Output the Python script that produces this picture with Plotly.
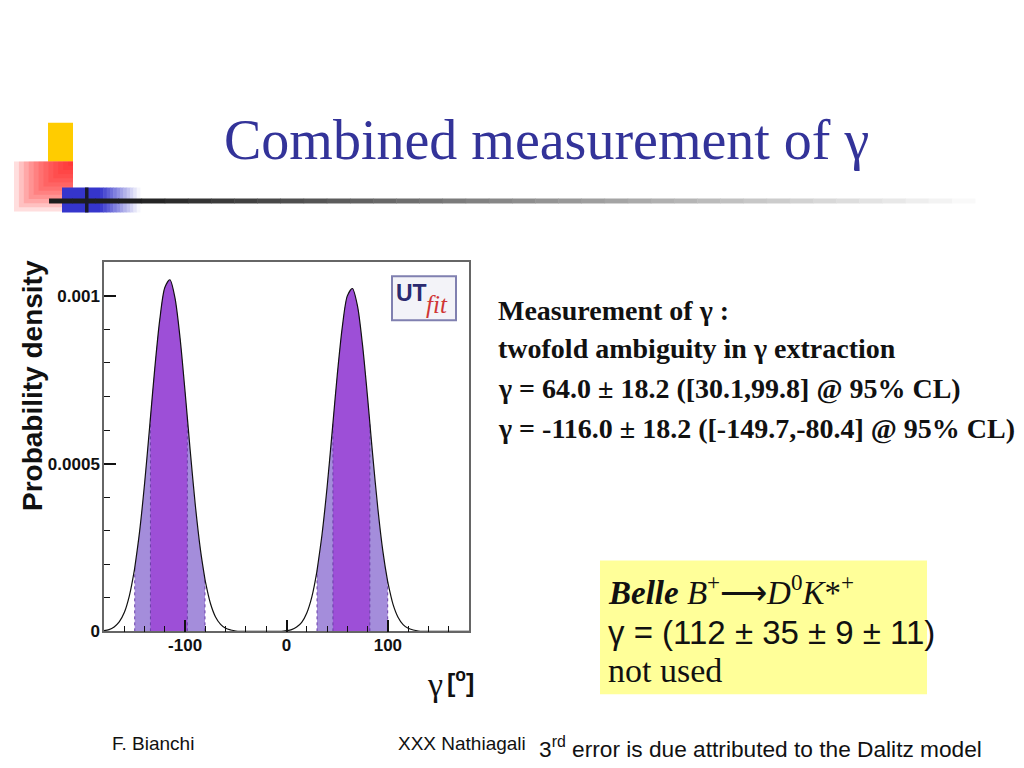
import plotly.graph_objects as go
import numpy as np

# ---------------- data ----------------
gamma_deg = [-180, -175, -170, -165, -160, -155, -150, -145, -140, -135, -130, -125,
             -120, -115, -110, -105, -100, -95, -90, -85, -80, -75, -70, -65, -60,
             -55, -50, -45, -40, -35, -30, -25, -20, -15, -10, -5,
             0, 5, 10, 15, 20, 25, 30, 35, 40, 45, 50, 55, 60, 65, 70, 75, 80, 85,
             90, 95, 100, 105, 110, 115, 120, 125, 130, 135, 140, 145, 150, 155,
             160, 165, 170, 175, 180]
density_e4 = [0.02, 0.05, 0.13, 0.28, 0.56, 1.06, 1.83, 2.95, 4.40, 6.09, 7.81, 9.29,
              10.25, 10.48, 9.94, 8.75, 7.13, 5.40, 3.78, 2.46, 1.48, 0.83, 0.43, 0.21, 0.09,
              0.04, 0.01, 0.0, 0.0, 0.0, 0.0, 0.0, 0.0, 0.0, 0.0, 0.0,
              0.02, 0.05, 0.13, 0.27, 0.55, 1.03, 1.79, 2.88, 4.29, 5.94, 7.62, 9.06, 10.00,
              10.22, 9.70, 8.53, 6.96, 5.26, 3.69, 2.40, 1.45, 0.81, 0.42, 0.20, 0.09,
              0.04, 0.01, 0.0, 0.0, 0.0, 0.0, 0.0, 0.0, 0.0, 0.0, 0.0, 0.0]

# 68% and 95% interval edges and the density read at those edges
band68 = [(-134.2, -97.8), (45.8, 82.2)]
band95 = [(-149.7, -80.4), (30.1, 99.8)]
edge_gamma = [-149.7, -134.2, -97.8, -80.4, 30.1, 45.8, 82.2, 99.8]
edge_density_e4 = [1.89, 6.37, 6.37, 1.55, 1.81, 6.21, 6.21, 1.48]

y_ticks = [0, 0.0005, 0.001]
y_ticktext = ["0", "0.0005", "0.001"]
x_ticks = [-100, 0, 100]
x_ticktext = ["-100", "0", "100"]

# merge curve points with the band edge points
g_all = np.array(gamma_deg + edge_gamma, dtype=float)
d_all = np.array(density_e4 + edge_density_e4, dtype=float) * 1e-4
order = np.argsort(g_all, kind="stable")
g_all = g_all[order]
d_all = d_all[order]

W, H = 1024, 768
# map screen pixel positions of the reference to paper coordinates
def px(x):
    return (x - 8) / W
def py(y):
    return 1 - (y - 8) / 760

LIGHT = "#a48ddb"
DARK = "#9d4fd7"
EDGE = "#6b3fa8"

fig = go.Figure()

def band_trace(lo, hi, color):
    m = (g_all >= lo - 1e-9) & (g_all <= hi + 1e-9)
    return go.Scatter(x=g_all[m], y=d_all[m], mode="lines", fill="tozeroy",
                      fillcolor=color, line=dict(width=0, shape="spline", smoothing=0.8),
                      hoverinfo="skip", showlegend=False)

for lo, hi in band95:
    fig.add_trace(band_trace(lo, hi, LIGHT))
for lo, hi in band68:
    fig.add_trace(band_trace(lo, hi, DARK))

# dotted edges of the intervals
for eg, ed in zip(edge_gamma, edge_density_e4):
    fig.add_trace(go.Scatter(x=[eg, eg], y=[0, ed * 1e-4], mode="lines",
                             line=dict(color=EDGE, width=1, dash="dot"),
                             hoverinfo="skip", showlegend=False))

fig.add_trace(go.Scatter(x=g_all, y=d_all, mode="lines",
                         line=dict(color="#111111", width=1.2, shape="spline", smoothing=0.8),
                         hoverinfo="skip", showlegend=False))

tickfont = dict(family="Liberation Sans", size=17, color="#111111", weight="bold")

fig.update_xaxes(range=[-180, 180], domain=[px(104), px(469)],
                 showline=True, linecolor="#666666", linewidth=1.5, mirror=True,
                 ticks="inside", ticklen=12, tickwidth=1.5, tickcolor="#111111",
                 tickmode="array", tickvals=x_ticks, ticktext=x_ticktext,
                 minor=dict(dtick=20, tick0=0, ticks="inside", ticklen=6,
                            tickwidth=1.2, tickcolor="#111111", showgrid=False),
                 showgrid=False, zeroline=False, tickfont=tickfont, ticklabelstandoff=-3)
fig.update_yaxes(range=[0, 0.0011], domain=[py(633), py(263)],
                 showline=True, linecolor="#666666", linewidth=1.5, mirror=True,
                 ticks="inside", ticklen=12, tickwidth=1.5, tickcolor="#111111",
                 tickmode="array", tickvals=y_ticks, ticktext=y_ticktext,
                 minor=dict(dtick=0.0001, tick0=0, ticks="inside", ticklen=6,
                            tickwidth=1.2, tickcolor="#111111", showgrid=False),
                 showgrid=False, zeroline=False, tickfont=tickfont, ticklabelstandoff=-1)

shapes = []
ann = []

def rect(x0, x1, y0, y1, color, layer="above", line=None):
    shapes.append(dict(type="rect", xref="paper", yref="paper", x0=px(x0), x1=px(x1),
                       y0=py(y1), y1=py(y0), fillcolor=color,
                       line=line if line else dict(width=0), layer=layer))

# ---------- top-left decoration ----------
rect(48, 73, 123, 185, "#ffcc00")
rect(14, 73, 162, 212, "white")
for k in range(12):
    f = k / 12
    rect(14 + 59 * f, 73, 162, 212 - 50 * f, "rgba(255,20,20,0.14)")
rect(62, 100, 188, 213, "#3535cc")
nb = 12
for k in range(nb):
    t = (k + 0.5) / nb
    c = int(53 + (255 - 53) * t)
    c2 = int(204 + (255 - 204) * t)
    rect(100 + 40 * k / nb, 100 + 40 * (k + 1) / nb + 0.5, 188, 213, f"rgb({c},{c},{c2})")
nl = 40
for k in range(nl):
    t = k / nl
    x0 = 49 + (975 - 49) * t
    x1 = 49 + (975 - 49) * (k + 1) / nl
    c = int(30 + 225 * min(1, max(0, (t - 0.08) / 0.92)) ** 0.9)
    rect(x0, x1 + 0.5, 199, 204, f"rgb({c},{c},{c})")
rect(85, 88.5, 188, 213, "#1a1a2a")

def text(x, y, s, family, size, color="#111111", xanchor="left", angle=0):
    ann.append(dict(x=px(x), y=py(y), xref="paper", yref="paper", xanchor=xanchor,
                    yanchor="middle", text=s, showarrow=False, textangle=angle,
                    font=dict(family=family, size=size, color=color)))

# ---------- title ----------
text(546, 140, "Combined measurement of γ", "Liberation Serif", 56, "#333399", "center")

# ---------- axis titles ----------
text(32, 387, "<b>Probability density</b>", "Liberation Sans", 28, xanchor="center", angle=-90)
text(435, 686, "γ", "Liberation Serif", 34, xanchor="center")
text(445, 683, "<b>[<sup>o</sup>]</b>", "Liberation Sans", 25)

# ---------- UTfit logo ----------
rect(392, 456, 277, 321, "#f3f3f8", line=dict(color="#8080b0", width=2))
text(394, 294, "<b>UT</b>", "Liberation Sans", 23, "#2b2b70")
text(424, 305, "<i>fit</i>", "Liberation Serif", 25, "#d03535")

# ---------- right text block ----------
lines = [
    ("Measurement of γ :", 311),
    ("twofold ambiguity in γ extraction", 349),
    ("γ = 64.0 ± 18.2 ([30.1,99.8] @ 95% CL)", 390),
    ("γ = -116.0 ± 18.2 ([-149.7,-80.4] @ 95% CL)", 430),
]
for txt, yy in lines:
    text(496, yy, f"<b>{txt}</b>", "Liberation Serif", 28)

# ---------- yellow box ----------
rect(600, 927, 562, 696, "#ffff99", layer="below")
text(606, 592, "<b><i>Belle</i></b> <i>B</i><sup>+</sup>⟶<i>D</i><sup>0</sup><i>K</i>*<sup>+</sup>",
     "Liberation Serif", 33)
text(606, 634, "γ = (112 ± 35 ± 9 ± 11)", "Liberation Sans", 33)
text(606, 672, "not used", "Liberation Serif", 34)

# ---------- footer ----------
text(110, 745, "F. Bianchi", "Liberation Sans", 19)
text(396, 745, "XXX Nathiagali", "Liberation Sans", 19)
text(537, 749, "3<sup>rd</sup> error is due attributed to the Dalitz model", "Liberation Sans", 22.7)

fig.update_layout(width=W, height=H, margin=dict(l=0, r=0, t=0, b=0),
                  paper_bgcolor="white", plot_bgcolor="white",
                  showlegend=False, shapes=shapes, annotations=ann)

fig.write_html("out.html")
